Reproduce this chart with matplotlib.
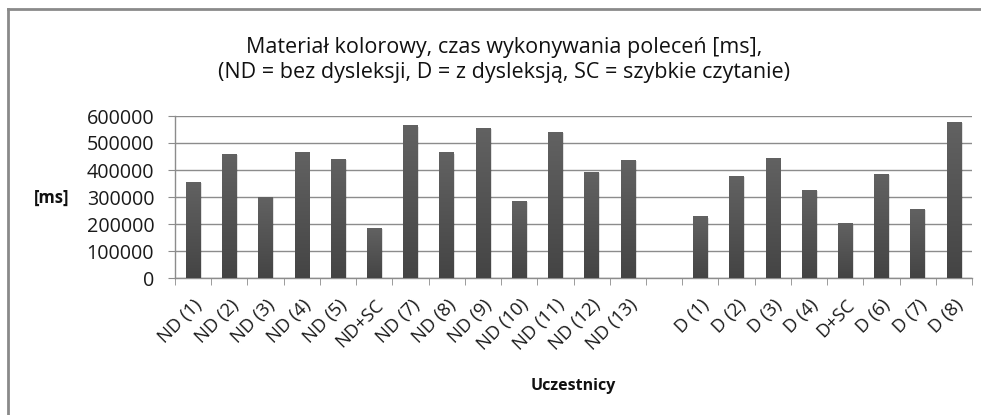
import matplotlib
matplotlib.use("Agg")
import matplotlib.pyplot as plt
import numpy as np
from matplotlib.lines import Line2D

categories = ["ND (1)", "ND (2)", "ND (3)", "ND (4)", "ND (5)", "ND+SC", "ND (7)",
              "ND (8)", "ND (9)", "ND (10)", "ND (11)", "ND (12)", "ND (13)", "",
              "D (1)", "D (2)", "D (3)", "D (4)", "D+SC", "D (6)", "D (7)", "D (8)"]
values = [356000, 460000, 299000, 465000, 441000, 185000, 565000,
          465000, 557000, 285000, 541000, 393000, 436000, None,
          228000, 377000, 445000, 325000, 202000, 384000, 256000, 577000]
yticks = [0, 100000, 200000, 300000, 400000, 500000, 600000]

title = "Materiał kolorowy, czas wykonywania poleceń [ms],\n(ND = bez dysleksji, D = z dysleksją, SC = szybkie czytanie)"

plt.rcParams['font.family'] = ['Open Sans', 'DejaVu Sans']

fig = plt.figure(figsize=(9.81, 4.15), dpi=100)
ax = fig.add_axes([175/981, 1-278/415, (972-175)/981, (278-116)/415])

x = np.arange(len(categories))
h = [v if v is not None else 0 for v in values]
bars = ax.bar(x, h, width=0.4, color="#555555", zorder=3)

grad = np.linspace(0, 1, 256).reshape(-1, 1)
cmap = matplotlib.colors.LinearSegmentedColormap.from_list("g", ["#444444", "#626262"])
for b, v in zip(bars, values):
    if v is None:
        b.set_visible(False)
        continue
    x0, y0 = b.get_x(), b.get_y()
    w, hh = b.get_width(), b.get_height()
    ax.bar(x0 + w/2 + 0.04, hh, width=w, bottom=-4000, color="#000000", alpha=0.12, zorder=2)
    im = ax.imshow(grad, extent=(x0, x0 + w, y0, y0 + hh), origin="lower",
                   cmap=cmap, aspect="auto", zorder=4)
    im.set_clip_path(b)

ax.set_xlim(-0.5, len(categories) - 0.5)
ax.set_ylim(0, 600000)
ax.set_yticks(yticks)
ax.set_yticklabels([str(t) for t in yticks], fontsize=14.2, color="#1a1a1a")
ax.yaxis.grid(True, color="#8c8c8c", linewidth=1.0, zorder=0)
ax.set_axisbelow(True)

ax.set_xticks(x)
ax.set_xticklabels(categories, rotation=45, ha="right", va="top",
                   rotation_mode="anchor", fontsize=13.3, color="#1a1a1a")
ax.set_xticks(np.arange(-0.5, len(categories)), minor=True)
ax.tick_params(axis="x", which="major", length=0, pad=13)
ax.tick_params(axis="x", which="minor", length=5, color="#8c8c8c", direction="out")
ax.tick_params(axis="y", length=5, color="#8c8c8c", direction="out", pad=10)

for s in ["top", "right"]:
    ax.spines[s].set_visible(False)
for s in ["left", "bottom"]:
    ax.spines[s].set_color("#8c8c8c")
    ax.spines[s].set_linewidth(1.0)

fig.text(504/981, 1-60/415, title, ha="center", va="center", fontsize=15.5,
         linespacing=1.3, color="#111111")
fig.text(52/981, 1-198/415, "[ms]", ha="center", va="center", fontsize=12,
         fontweight="bold", color="#111111")
fig.text(573/981, 1-386/415, "Uczestnicy", ha="center", va="center", fontsize=11.5,
         fontweight="bold", color="#111111")

fig.add_artist(Line2D([8/981, 8/981], [0, 1-9/415], transform=fig.transFigure,
                      color="#8a8a8a", linewidth=2))
fig.add_artist(Line2D([8/981, 1], [1-9/415, 1-9/415], transform=fig.transFigure,
                      color="#8a8a8a", linewidth=2))

fig.savefig("out.png", dpi=100)
